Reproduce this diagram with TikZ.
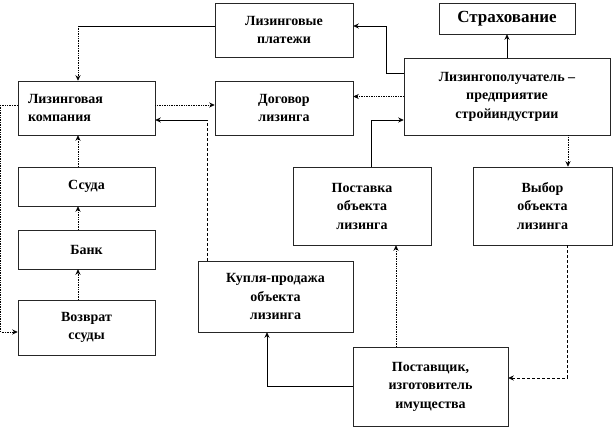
\documentclass[tikz,border=0pt]{standalone}
\usepackage{fontspec}
\setmainfont{Liberation Serif}
\usetikzlibrary{arrows.meta}
\begin{document}
\begin{tikzpicture}[x=1pt,y=-1pt,
    bx/.style={draw=black!85,line width=0.5pt,align=center,inner sep=0pt,font=\bfseries\fontsize{14}{18.5}\selectfont},
    ar/.style={-{Stealth[length=5.5pt,width=5pt]}},
    sl/.style={line width=0.7pt},
    dl/.style={line width=0.7pt,densely dotted},
    dd/.style={line width=0.6pt,densely dashed}]
    \useasboundingbox (0,0) rectangle (614,428);
    % boxes
    \node[bx,minimum width=138pt,minimum height=54pt] (plat) at (284,30) {Лизинговые\\платежи};
    \node[bx,minimum width=136pt,minimum height=31pt,font=\bfseries\fontsize{17}{18}\selectfont] (strah) at (507,18.5) {Страхование};
    \node[bx,minimum width=137pt,minimum height=54pt,align=left,text width=117pt] (komp) at (86.5,108) {Лизинговая\\компания};
    \node[bx,minimum width=138pt,minimum height=54pt] (dog) at (284,108) {Договор\\лизинга};
    \node[bx,minimum width=206pt,minimum height=77pt] (poluch) at (507,96.5) {Лизингополучатель --\\предприятие\\стройиндустрии};
    \node[bx,minimum width=137pt,minimum height=39pt] (ssuda) at (86.5,186.5) {Ссуда};
    \node[bx,minimum width=137pt,minimum height=39pt] (bank) at (86.5,249.5) {Банк};
    \node[bx,minimum width=137pt,minimum height=55pt] (vozvr) at (86.5,327.5) {Возврат\\ссуды};
    \node[bx,minimum width=138pt,minimum height=78pt] (postavka) at (362,206) {Поставка\\объекта\\лизинга};
    \node[bx,minimum width=139pt,minimum height=78pt] (vybor) at (542.5,206) {Выбор\\объекта\\лизинга};
    \node[bx,minimum width=155pt,minimum height=71pt] (kuplya) at (275.5,296.5) {Купля-продажа\\объекта\\лизинга};
    \node[bx,minimum width=155pt,minimum height=79pt] (postav) at (430.5,386.5) {Поставщик,\\изготовитель\\имущества};
    % connectors
    \coordinate (kc) at ([xshift=-8.5pt]komp.north);
    \coordinate (ke) at ([yshift=-12pt]komp.east);
    \coordinate (kk) at ([xshift=-68.5pt]kuplya.north |- ke);
    \draw[sl,ar] ([yshift=23.5pt]poluch.west) -- ++(-17,0) |- ([yshift=4pt]plat.east);
    \draw[sl] ([yshift=4pt]plat.west) -- ([yshift=4pt]plat.west -| kc);
    \draw[dl,ar] ([yshift=4pt]plat.west -| kc) -- (kc);
    \draw[dl,ar] ([yshift=3pt]komp.east) -- ([yshift=3pt]komp.east -| dog.west);
    \draw[dd] ([xshift=-68.5pt]kuplya.north) -- (kk);
    \draw[sl,ar] (kk) -- (ke);
    \draw[dl,ar] (poluch.west) -- (poluch.west -| dog.east);
    \draw[sl,ar] ([xshift=9pt]postavka.north) |- ([yshift=-23.5pt]poluch.west);
    \draw[sl,ar] (poluch.north) -- (strah.south);
    \draw[dl,ar] ([xshift=61pt]poluch.south) -- ([xshift=61pt]poluch.south |- vybor.north);
    \draw[dd,ar] ([xshift=24.5pt]vybor.south) |- ([yshift=8.5pt]postav.east);
    \draw[dl,ar] ([xshift=-34.5pt]postav.north) -- ([xshift=-34.5pt]postav.north |- postavka.south);
    \draw[sl,ar] (postav.west) -| ([xshift=-8.5pt]kuplya.south);
    \foreach \a/\b in {ssuda/komp,bank/ssuda,vozvr/bank}
        \draw[dl,ar] ([xshift=-8.5pt]\a.north) -- ([xshift=-8.5pt]\b.south);
    \draw[dl,ar] ([yshift=3pt]komp.west) -- ++(-17,0) |- ([yshift=-4.5pt]vozvr.west);
\end{tikzpicture}
\end{document}
